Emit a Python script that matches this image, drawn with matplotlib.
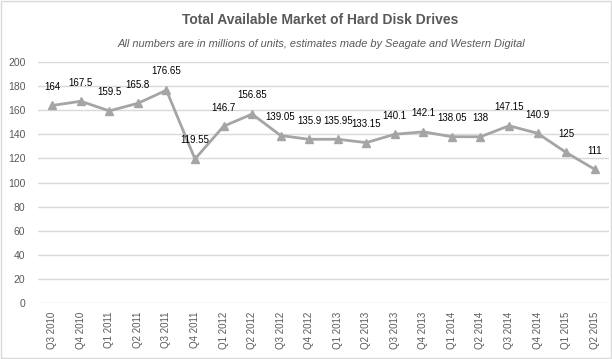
import matplotlib.pyplot as plt
from matplotlib.patches import Rectangle

quarters = ["Q3 2010", "Q4 2010", "Q1 2011", "Q2 2011", "Q3 2011", "Q4 2011",
            "Q1 2012", "Q2 2012", "Q3 2012", "Q4 2012", "Q1 2013", "Q2 2013",
            "Q3 2013", "Q4 2013", "Q1 2014", "Q2 2014", "Q3 2014", "Q4 2014",
            "Q1 2015", "Q2 2015"]
units = [164, 167.5, 159.5, 165.8, 176.65, 119.55, 146.7, 156.85, 139.05, 135.9,
         135.95, 133.15, 140.1, 142.1, 138.05, 138, 147.15, 140.9, 125, 111]
labels = ["164", "167.5", "159.5", "165.8", "176.65", "119.55", "146.7", "156.85",
          "139.05", "135.9", "135.95", "133.15", "140.1", "142.1", "138.05", "138",
          "147.15", "140.9", "125", "111"]

plt.rcParams['font.family'] = ['Liberation Sans', 'DejaVu Sans']

fig = plt.figure(figsize=(6.12, 3.59), dpi=100)
ax = fig.add_axes([0.062, 0.156, 0.933, 0.671])

x = list(range(len(quarters)))
ax.plot(x, units, color='#A5A5A5', linewidth=2, marker='^', markersize=6)

for xi, v, lab in zip(x, units, labels):
    ax.annotate(lab, (xi, v), xytext=(0, 13.5), textcoords='offset points',
                ha='center', va='center', fontsize=7, color='#000000')

ax.set_xlim(-0.5, len(quarters) - 0.5)
ax.set_ylim(0, 200)
ax.set_yticks(range(0, 201, 20))
ax.set_xticks(x)
ax.set_xticklabels(quarters, rotation=90, fontsize=7, color='#595959')
ax.tick_params(axis='y', labelsize=7.5, labelcolor='#595959', length=0, pad=9)
ax.tick_params(axis='x', length=0, pad=6)
ax.grid(axis='y', color='#D9D9D9', linewidth=1)
ax.set_axisbelow(True)
for s in ax.spines.values():
    s.set_visible(False)

fig.text(0.523, 0.943, "Total Available Market of Hard Disk Drives", ha='center',
         va='center', fontsize=10, fontweight='bold', color='#595959')
fig.text(0.525, 0.877, "All numbers are in millions of units, estimates made by Seagate and Western Digital",
         ha='center', va='center', fontsize=7.9, style='italic', color='#595959')

fig.patches.append(Rectangle((0.001, 0.002), 0.997, 0.995, transform=fig.transFigure,
                             fill=False, edgecolor='#D9D9D9', linewidth=1))

fig.savefig('out.png', dpi=100)
